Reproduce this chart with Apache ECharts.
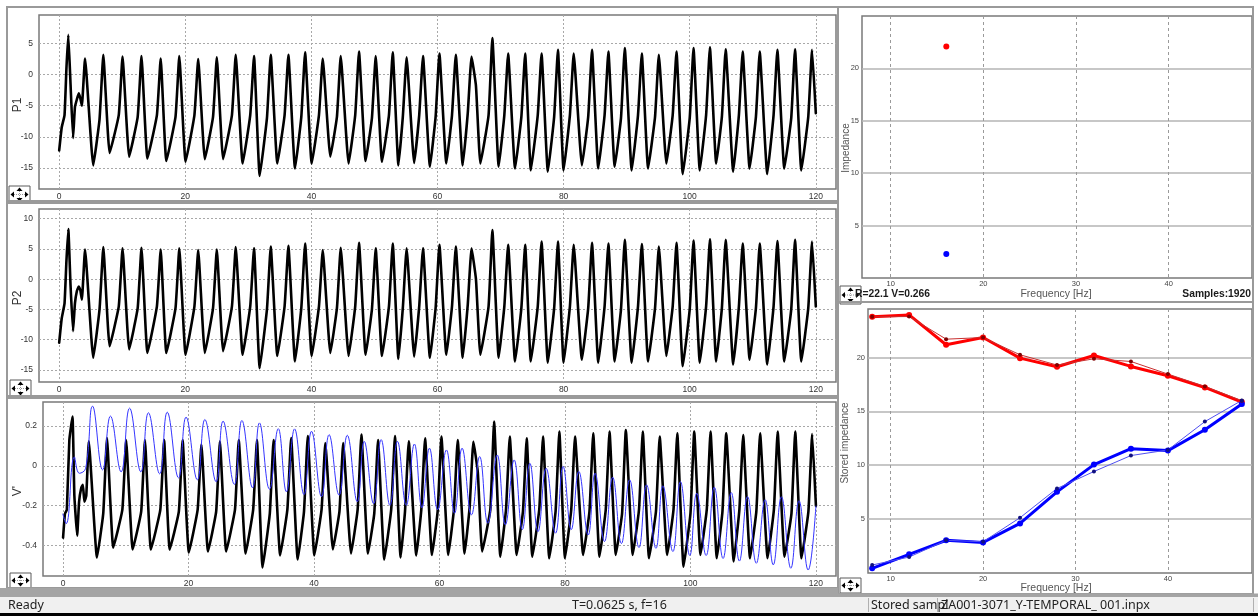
<!DOCTYPE html>
<html>
<head>
<meta charset="utf-8">
<title>Impedance acquisition</title>
<script src="https://cdn.jsdelivr.net/npm/echarts@6/dist/echarts.min.js"></script>
<style>
  html, body { margin: 0; padding: 0; background: #ffffff; }
  #chart { width: 1258px; height: 616px; }
</style>
</head>
<body>
<div id="chart"></div>
<script>
// ---- time-domain traces (x in samples/16, y in channel units) ----
// Cycle landmarks shared by the three pressure/voltage channels
const peakT = [4.1, 7.0, 10.05, 13.05, 16.1, 19.05, 22.05, 25.0, 28.0, 30.9, 33.55, 36.35, 39.0, 41.8, 44.65, 47.55, 50.2, 52.9, 55.1,
  57.7, 60.3, 62.9, 65.4, 68.7, 71.2, 73.9, 76.5, 79.1, 81.6, 84.5, 87.1, 89.7, 92.4, 95.1, 97.9, 100.6, 103.2, 105.7, 108.4, 111.1, 113.9, 116.7, 119.4];
const troughT = [5.4, 8.0, 11.1, 14.0, 17.0, 20.05, 23.1, 26.0, 29.1, 31.8, 34.6, 37.4, 40.05, 43.0, 45.9, 48.6, 51.2, 53.8, 56.3,
  58.8, 61.4, 64.0, 66.8, 69.7, 72.3, 74.8, 77.5, 80.0, 82.9, 85.5, 88.1, 90.8, 93.4, 96.3, 98.9, 101.6, 104.2, 106.9, 109.5, 112.3, 115.0, 117.7];
const kneeT = [6.4, 9.45, 12.45, 15.5, 18.45, 21.45, 24.4, 27.4, 30.3, 32.95, 35.75, 38.4, 41.2, 44.05, 46.95, 49.6, 52.3, 54.5, 57.1,
  59.7, 62.3, 64.8, 68.1, 70.6, 73.3, 75.9, 78.5, 81.0, 83.9, 86.5, 89.1, 91.8, 94.5, 97.3, 100.0, 102.6, 105.1, 107.8, 110.5, 113.3, 116.1, 118.8];

// P1
const p1Start = [[0, -12.2], [0.4, -8.5], [0.85, -6.5], [1.15, 1.0], [1.45, 6.4], [1.8, -1.5], [2.2, -10.2], [2.5, -5.2], [2.8, -4.0], [3.1, -3.0], [3.35, -3.8], [3.6, -5.0]];
const p1Peak = [2.6, 3.2, 2.9, 3.0, 2.6, 3.0, 2.5, 2.8, 3.2, 3.0, 3.2, 3.2, 3.6, 2.6, 3.0, 3.7, 3.0, 3.6, 2.8,
  3.0, 3.4, 3.2, 2.9, 5.9, 3.4, 3.4, 3.4, 4.0, 3.4, 4.0, 3.7, 4.3, 3.4, 3.2, 3.7, 4.3, 4.4, 4.1, 3.7, 3.7, 4.0, 4.1, 4.0];
const p1Trough = [-14.6, -12.6, -13.2, -13.5, -13.9, -14.0, -13.6, -13.6, -14.3, -16.3, -14.3, -15.1, -14.3, -13.2, -14.3, -13.9, -14.0, -14.6, -14.2,
  -14.8, -14.3, -14.6, -14.3, -14.8, -15.1, -15.4, -15.6, -15.4, -14.6, -15.1, -14.8, -15.4, -15.1, -14.3, -16.0, -15.4, -14.3, -15.6, -15.1, -16.0, -15.1, -15.4];
const p1Knee = [-7.2, -6.5, -6.8, -6.5, -6.8, -6.5, -6.8, -6.5, -6.5, -7.0, -6.5, -6.8, -6.5, -6.8, -6.5, -7.0, -6.5, -6.8, -6.5,
  -6.8, -6.5, -6.2, -6.5, -6.5, -6.8, -6.5, -6.8, -6.5, -6.8, -6.5, -7.0, -6.5, -6.8, -6.5, -7.0, -6.5, -6.8, -6.5, -6.8, -6.5, -7.0, -6.8];
const p1Extra = [[66.1, -1.8]];
const p1End = [120, -6.2];

// P2
const p2Start = [[0, -10.5], [0.4, -6.5], [0.85, -4.0], [1.15, 3.0], [1.45, 8.3], [1.8, -1.0], [2.2, -8.6], [2.5, -4.0], [2.8, -2.0], [3.1, -1.2], [3.35, -1.8], [3.6, -3.4]];
const p2Peak = [4.9, 5.3, 5.1, 5.2, 4.9, 5.1, 4.8, 4.9, 5.3, 5.1, 5.4, 5.5, 5.9, 4.8, 5.2, 6.0, 5.1, 5.9, 5.1,
  5.1, 5.7, 5.4, 5.1, 8.1, 5.7, 5.7, 6.2, 6.2, 5.7, 6.0, 5.9, 6.5, 5.8, 5.4, 6.0, 6.4, 6.6, 6.5, 5.9, 5.9, 6.3, 6.5, 6.2];
const p2Trough = [-13.0, -11.1, -11.6, -12.2, -12.2, -12.5, -12.2, -11.9, -12.5, -14.7, -12.7, -13.6, -12.7, -12.2, -12.7, -12.5, -12.7, -13.2, -12.8,
  -13.0, -12.5, -13.0, -12.5, -13.0, -13.6, -13.6, -13.8, -13.8, -13.3, -13.8, -13.6, -13.8, -13.6, -12.7, -14.4, -13.8, -13.6, -14.1, -13.3, -14.1, -13.6, -13.6];
const p2Knee = [-5.0, -4.5, -4.8, -4.5, -4.8, -4.5, -4.8, -4.5, -4.5, -5.0, -4.5, -4.8, -4.5, -4.8, -4.5, -5.0, -4.5, -4.8, -4.5,
  -4.8, -4.5, -4.2, -4.5, -4.5, -4.8, -4.5, -4.8, -4.5, -4.8, -4.5, -5.0, -4.5, -4.8, -4.5, -5.0, -4.5, -4.8, -4.5, -4.8, -4.5, -5.0, -4.8];
const p2Extra = [[66.1, 0.0]];
const p2End = [120, -4.5];

// V' (black: measured, blue: reference)
const vStart = [[0, -0.36], [0.3, -0.24], [0.6, -0.22], [1.0, 0.13], [1.5, 0.248], [1.8, -0.15], [2.25, -0.35], [2.55, -0.18], [2.9, -0.11], [3.15, -0.095], [3.4, -0.18], [3.7, -0.15]];
const vPeak = [0.124, 0.14, 0.13, 0.13, 0.13, 0.13, 0.107, 0.124, 0.13, 0.13, 0.13, 0.14, 0.15, 0.115, 0.115, 0.158, 0.13, 0.15, 0.124,
  0.139, 0.147, 0.13, 0.122, 0.223, 0.147, 0.139, 0.147, 0.173, 0.147, 0.164, 0.173, 0.18, 0.173, 0.147, 0.164, 0.173, 0.173, 0.164, 0.155, 0.164, 0.173, 0.173, 0.16];
const vTrough = [-0.46, -0.41, -0.42, -0.42, -0.42, -0.435, -0.43, -0.43, -0.44, -0.51, -0.45, -0.47, -0.45, -0.42, -0.44, -0.44, -0.47, -0.46, -0.45,
  -0.447, -0.447, -0.44, -0.43, -0.456, -0.447, -0.456, -0.464, -0.464, -0.447, -0.456, -0.447, -0.447, -0.464, -0.447, -0.506, -0.447, -0.464, -0.48, -0.464, -0.464, -0.456, -0.464];
const vKnee = [-0.24, -0.22, -0.23, -0.22, -0.23, -0.22, -0.23, -0.22, -0.22, -0.24, -0.22, -0.23, -0.22, -0.23, -0.22, -0.24, -0.22, -0.23, -0.22,
  -0.23, -0.22, -0.21, -0.22, -0.22, -0.23, -0.22, -0.23, -0.22, -0.23, -0.22, -0.24, -0.22, -0.23, -0.22, -0.24, -0.22, -0.23, -0.22, -0.23, -0.22, -0.24, -0.23];
const vExtra = [[66.1, -0.03]];
const vEnd = [120, -0.2];

const blueT = [-0.05, 0.5, 1.8, 2.6, 3.6, 4.7, 6.3, 7.55, 9.25, 10.6, 12.4, 13.6, 15.4, 16.6, 18.4, 19.6, 21.4, 22.6, 24.4, 25.5, 27.3, 28.5,
  30.2, 31.3, 32.9, 34.3, 35.6, 36.9, 38.4, 39.6, 41.2, 42.4, 44.0, 45.3, 46.9, 48.0, 49.5, 50.7, 52.1, 53.3, 54.7, 56.0, 57.2, 58.4,
  59.7, 61.1, 62.4, 63.6, 65.1, 66.4, 67.7, 69.2, 70.5, 71.9, 73.2, 74.4, 75.7, 77.0, 78.5, 79.7, 81.0, 82.2, 83.7, 84.8, 86.3, 87.6,
  89.0, 90.3, 91.8, 93.0, 94.5, 95.6, 97.2, 98.4, 99.9, 101.0, 102.5, 103.8, 105.2, 106.5, 107.8, 109.1, 110.5, 111.9, 113.2, 114.5,
  116.0, 117.3, 118.76, 120];
const blueV = [-0.24, -0.29, 0.045, -0.037, -0.012, 0.30, -0.02, 0.25, -0.03, 0.29, -0.03, 0.267, -0.04, 0.27, -0.06, 0.245, -0.07, 0.233, -0.08, 0.225, -0.093, 0.228,
  -0.11, 0.216, -0.117, 0.187, -0.13, 0.186, -0.144, 0.174, -0.155, 0.157, -0.147, 0.154, -0.18, 0.123, -0.19, 0.132, -0.198, 0.123, -0.198, 0.11, -0.21, 0.089,
  -0.22, 0.08, -0.238, 0.089, -0.246, 0.047, -0.288, 0.055, -0.296, 0.03, -0.32, 0.013, -0.33, -0.012, -0.338, -0.003, -0.32, -0.028, -0.347, -0.037, -0.38, -0.057,
  -0.39, -0.07, -0.41, -0.095, -0.414, -0.1, -0.43, -0.079, -0.45, -0.137, -0.45, -0.107, -0.465, -0.134, -0.478, -0.154, -0.489, -0.17, -0.497, -0.155,
  -0.514, -0.175, -0.523, -0.2];

// ---- frequency-domain results ----
const curFreq = 16;
const curRe = 22.1;
const curIm = 2.3;
const freqs = [8, 12, 16, 20, 24, 28, 32, 36, 40, 44, 48];
const storedRe = [23.77, 23.95, 21.18, 21.85, 19.94, 19.14, 20.19, 19.17, 18.31, 17.22, 15.87];
const storedRePrev = [23.77, 23.8, 21.7, 21.85, 20.25, 19.3, 19.88, 19.63, 18.46, 17.31, 15.99];
const storedIm = [0.43, 1.73, 3.03, 2.84, 4.6, 7.53, 10.06, 11.54, 11.36, 13.3, 15.68];
const storedImPrev = [0.74, 1.48, 3.03, 2.9, 5.13, 7.84, 9.42, 10.9, 11.42, 14.05, 16.02];

// tick positions
const timeTicks = [0, 20, 40, 60, 80, 100, 120];
const p1Ticks = [-15, -10, -5, 0, 5];
const p2Ticks = [-15, -10, -5, 0, 5, 10];
const vTicks = [-0.4, -0.2, 0, 0.2];
const freqTicks = [10, 20, 30, 40];
const impTicks = [5, 10, 15, 20];

// assemble a trace from its start-up segment, cycle landmarks and end point
function buildTrace(start, peakV, troughV, kneeV, extra, end) {
  const pts = start.map(p => p.slice());
  for (let i = 0; i < peakT.length; i++) {
    pts.push([peakT[i], peakV[i]]);
    if (i < troughT.length) {
      pts.push([troughT[i], troughV[i]]);
      pts.push([kneeT[i], kneeV[i]]);
    }
  }
  extra.forEach(p => pts.push(p.slice()));
  pts.push(end.slice());
  pts.sort((a, b) => a[0] - b[0]);
  return pts;
}
const p1Data = buildTrace(p1Start, p1Peak, p1Trough, p1Knee, p1Extra, p1End);
const p2Data = buildTrace(p2Start, p2Peak, p2Trough, p2Knee, p2Extra, p2End);
const vData = buildTrace(vStart, vPeak, vTrough, vKnee, vExtra, vEnd);
const blueData = blueT.map((t, i) => [t, blueV[i]]);
const zip = (xs, ys) => xs.map((x, i) => [x, ys[i]]);

const FONT = '"Liberation Sans", Arial, sans-serif';
const UI_FONT = '"Noto Sans", "Liberation Sans", sans-serif';

function timeAxis(gi) {
  return {
    gridIndex: gi, type: 'value', min: -3.2, max: 123.2,
    axisLine: { show: false },
    axisTick: { show: false, customValues: timeTicks },
    axisLabel: { customValues: timeTicks, fontSize: 8.5, color: '#333', margin: 3, fontFamily: FONT },
    splitLine: { show: true, lineStyle: { color: '#a8a8a8', type: [2, 2], width: 1 } }
  };
}
function valueAxis(gi, min, max, ticks) {
  return {
    gridIndex: gi, type: 'value', min: min, max: max,
    axisLine: { show: false },
    axisTick: { show: false, customValues: ticks },
    axisLabel: { customValues: ticks, fontSize: 8.5, color: '#333', margin: 6, fontFamily: FONT },
    splitLine: { show: true, lineStyle: { color: '#a8a8a8', type: [2, 2], width: 1 } }
  };
}
function freqAxis(gi, min, max) {
  return {
    gridIndex: gi, type: 'value', min: min, max: max,
    axisLine: { show: false },
    axisTick: { show: false, customValues: freqTicks },
    axisLabel: { customValues: freqTicks, fontSize: 7.5, color: '#444', margin: 2, fontFamily: FONT },
    splitLine: { show: true, lineStyle: { color: '#9a9a9a', type: [3, 3], width: 1 } }
  };
}
function impAxis(gi, min, max) {
  return {
    gridIndex: gi, type: 'value', min: min, max: max,
    axisLine: { show: false },
    axisTick: { show: false, customValues: impTicks },
    axisLabel: { customValues: impTicks, fontSize: 7.5, color: '#444', margin: 3, fontFamily: FONT },
    splitLine: { show: true, lineStyle: { color: '#b4b4b4', type: 'solid', width: 1.5 } }
  };
}

function navIcon(x, y, w, h) {
  const cx = x + w / 2, cy = y + h / 2;
  return {
    type: 'group', z: 100,
    children: [
      { type: 'rect', shape: { x: x, y: y, width: w, height: h }, style: { fill: '#ffffff', stroke: '#5a5a5a', lineWidth: 1 } },
      { type: 'polygon', shape: { points: [[cx, y + 1.5], [cx - 3, y + 5], [cx + 3, y + 5]] }, style: { fill: '#000' } },
      { type: 'polygon', shape: { points: [[cx, y + h - 1.5], [cx - 3, y + h - 5], [cx + 3, y + h - 5]] }, style: { fill: '#000' } },
      { type: 'polygon', shape: { points: [[x + 1.5, cy], [x + 5, cy - 3], [x + 5, cy + 3]] }, style: { fill: '#000' } },
      { type: 'polygon', shape: { points: [[x + w - 1.5, cy], [x + w - 5, cy - 3], [x + w - 5, cy + 3]] }, style: { fill: '#000' } },
      { type: 'line', shape: { x1: x + 5, y1: cy, x2: x + w - 5, y2: cy }, style: { stroke: '#999', lineWidth: 1, lineDash: [1, 1] } },
      { type: 'line', shape: { x1: cx, y1: y + 5, x2: cx, y2: y + h - 5 }, style: { stroke: '#999', lineWidth: 1, lineDash: [1, 1] } }
    ]
  };
}
function txt(text, x, y, opts) {
  const o = opts || {};
  return {
    type: 'text', x: x, y: y, rotation: o.rotation || 0, z: o.z || 50,
    style: {
      text: text, x: 0, y: 0, fill: o.color || '#222',
      font: (o.weight || 'normal') + ' ' + (o.size || 12) + 'px ' + (o.family || FONT),
      align: o.align || 'left', verticalAlign: 'middle',
      textAlign: o.align || 'left', textVerticalAlign: 'middle'
    }
  };
}
function frame(x, y, w, h, color, lw) {
  return { type: 'rect', z: 1, shape: { x: x, y: y, width: w, height: h }, style: { fill: 'none', stroke: color, lineWidth: lw } };
}

const gridBase = { show: true, borderColor: '#7a7a7a', borderWidth: 1.5, backgroundColor: '#ffffff' };
const traceStyle = { color: '#000', width: 2.6, join: 'round', cap: 'round' };

const option = {
  animation: false,
  backgroundColor: '#ffffff',
  grid: [
    Object.assign({ left: 39, top: 15, width: 797, height: 174 }, gridBase),
    Object.assign({ left: 39, top: 209, width: 797, height: 173 }, gridBase),
    Object.assign({ left: 43, top: 402, width: 793, height: 174 }, gridBase),
    Object.assign({ left: 862, top: 16, width: 390, height: 262 }, gridBase),
    Object.assign({ left: 868, top: 309, width: 384, height: 264 }, gridBase)
  ],
  xAxis: [timeAxis(0), timeAxis(1), timeAxis(2), freqAxis(3, 6.9, 49), freqAxis(4, 7.55, 49.1)],
  yAxis: [
    valueAxis(0, -18.4, 9.6, p1Ticks),
    valueAxis(1, -17.0, 11.6, p2Ticks),
    valueAxis(2, -0.553, 0.321, vTicks),
    impAxis(3, 0, 25),
    impAxis(4, 0, 24.5)
  ],
  series: [
    { name: 'P1', type: 'line', xAxisIndex: 0, yAxisIndex: 0, data: p1Data, showSymbol: false, smooth: 0.12, lineStyle: traceStyle, itemStyle: { color: '#000' } },
    { name: 'P2', type: 'line', xAxisIndex: 1, yAxisIndex: 1, data: p2Data, showSymbol: false, smooth: 0.12, lineStyle: traceStyle, itemStyle: { color: '#000' } },
    { name: "V'", type: 'line', xAxisIndex: 2, yAxisIndex: 2, data: vData, showSymbol: false, smooth: 0.12, lineStyle: traceStyle, itemStyle: { color: '#000' } },
    { name: 'Vref', type: 'line', xAxisIndex: 2, yAxisIndex: 2, data: blueData, showSymbol: false, smooth: 0.45, lineStyle: { color: '#3535ff', width: 1 }, itemStyle: { color: '#3535ff' } },
    { name: 'Re', type: 'scatter', xAxisIndex: 3, yAxisIndex: 3, data: [[curFreq, curRe]], symbolSize: 6, itemStyle: { color: '#ff0000', opacity: 1 } },
    { name: 'Im', type: 'scatter', xAxisIndex: 3, yAxisIndex: 3, data: [[curFreq, curIm]], symbolSize: 6, itemStyle: { color: '#0000ff', opacity: 1 } },
    { name: 'Stored Re', type: 'line', xAxisIndex: 4, yAxisIndex: 4, data: zip(freqs, storedRe), symbol: 'circle', symbolSize: 6, lineStyle: { color: '#ff0000', width: 3 }, itemStyle: { color: '#ff0000' } },
    { name: 'Stored Im', type: 'line', xAxisIndex: 4, yAxisIndex: 4, data: zip(freqs, storedIm), symbol: 'circle', symbolSize: 6, lineStyle: { color: '#0000ff', width: 3 }, itemStyle: { color: '#0000ff' } },
    { name: 'Stored Re prev', type: 'line', xAxisIndex: 4, yAxisIndex: 4, data: zip(freqs, storedRePrev), symbol: 'circle', symbolSize: 4, lineStyle: { color: '#c83030', width: 1 }, itemStyle: { color: '#800000' } },
    { name: 'Stored Im prev', type: 'line', xAxisIndex: 4, yAxisIndex: 4, data: zip(freqs, storedImPrev), symbol: 'circle', symbolSize: 4, lineStyle: { color: '#5050f0', width: 1 }, itemStyle: { color: '#101080' } }
  ],
  graphic: [
    // pane frames
    frame(7, 7, 831, 194, '#9a9a9a', 2),
    frame(7, 203, 831, 193, '#9a9a9a', 2),
    frame(7, 398, 831, 190, '#9a9a9a', 2),
    frame(838, 7, 415, 295, '#9a9a9a', 2),
    frame(838, 302, 415, 292, '#9a9a9a', 2),
    // axis names
    txt('P1', 18, 105, { rotation: Math.PI / 2, align: 'center', size: 12, color: '#333' }),
    txt('P2', 18, 298, { rotation: Math.PI / 2, align: 'center', size: 12, color: '#333' }),
    txt("V'", 18, 491, { rotation: Math.PI / 2, align: 'center', size: 12, color: '#333' }),
    txt('Impedance', 846.5, 148, { rotation: Math.PI / 2, align: 'center', size: 10, color: '#555' }),
    txt('Stored impedance', 845.7, 443, { rotation: Math.PI / 2, align: 'center', size: 10, color: '#555' }),
    txt('Frequency [Hz]', 1056, 294, { align: 'center', size: 10.5, color: '#555' }),
    txt('Frequency [Hz]', 1056, 588, { align: 'center', size: 10.5, color: '#555' }),
    txt('R=22.1 V=0.266', 855, 294, { size: 10.3, weight: 'bold', color: '#1a1a1a' }),
    txt('Samples:1920', 1251, 294, { align: 'right', size: 10.3, weight: 'bold', color: '#1a1a1a' }),
    // navigation buttons
    navIcon(9, 186, 21, 17),
    navIcon(10, 380, 21, 17),
    navIcon(10, 573, 21, 15),
    navIcon(840, 286, 21, 18),
    navIcon(840, 578, 21, 15),
    // status bar
    { type: 'rect', z: 2, shape: { x: 0, y: 588, width: 838, height: 9 }, style: { fill: '#a4a4a4' } },
    { type: 'rect', z: 2, shape: { x: 838, y: 593.5, width: 420, height: 3.5 }, style: { fill: '#a4a4a4' } },
    { type: 'rect', z: 2, shape: { x: 0, y: 597, width: 1258, height: 16 }, style: { fill: '#f0f0f0' } },
    { type: 'rect', z: 2, shape: { x: 0, y: 613, width: 1258, height: 3 }, style: { fill: '#000000' } },
    { type: 'line', z: 3, shape: { x1: 868.5, y1: 598, x2: 868.5, y2: 612 }, style: { stroke: '#b0b0b0', lineWidth: 1 } },
    { type: 'line', z: 3, shape: { x1: 937.5, y1: 598, x2: 937.5, y2: 612 }, style: { stroke: '#b0b0b0', lineWidth: 1 } },
    { type: 'line', z: 3, shape: { x1: 1253.5, y1: 598, x2: 1253.5, y2: 612 }, style: { stroke: '#b0b0b0', lineWidth: 1 } },
    txt('Ready', 8, 605.5, { size: 12.5, color: '#222', family: UI_FONT, z: 5 }),
    txt('T=0.0625 s, f=16', 572, 605.5, { size: 12.5, color: '#222', family: UI_FONT, z: 5 }),
    txt('Stored sampl', 871, 605.5, { size: 12.5, color: '#222', family: UI_FONT, z: 5 }),
    txt('ZA001-3071_Y-TEMPORAL_ 001.inpx', 941, 605.5, { size: 12.5, color: '#222', family: UI_FONT, z: 5 })
  ]
};

const chart = echarts.init(document.getElementById('chart'), null, { renderer: 'canvas' });
chart.setOption(option);
</script>
</body>
</html>
